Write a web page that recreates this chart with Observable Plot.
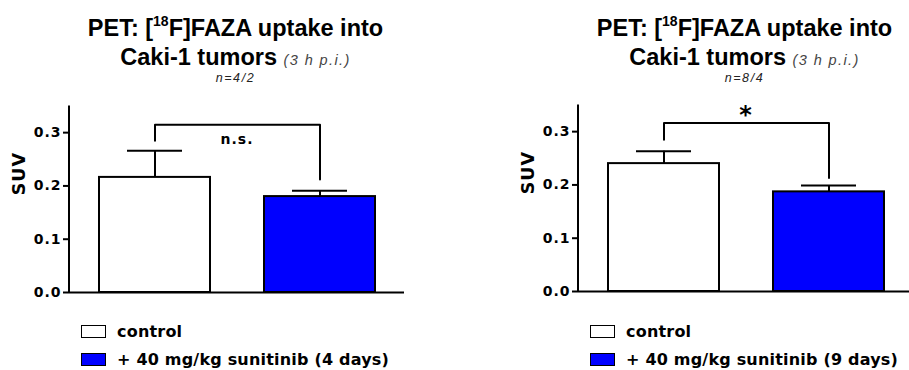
<!DOCTYPE html>
<html><head><meta charset="utf-8">
<script src="https://cdn.jsdelivr.net/npm/d3@7"></script>
<script src="https://cdn.jsdelivr.net/npm/@observablehq/plot@0.6"></script>
<style>
html,body{margin:0;padding:0;background:#fff;width:909px;height:370px;overflow:hidden;position:relative;}
.panel{position:absolute;top:0;width:460px;height:370px;}
.panel svg{position:absolute;left:0;overflow:visible;}
.t{position:absolute;left:35.5px;width:400px;text-align:center;white-space:nowrap;font-family:"Liberation Sans",Arial,sans-serif;color:#000;}
.t1,.t2{font-size:23.5px;line-height:23.5px;font-weight:bold;}
.t1{top:17.1px;}
.t2{top:46.1px;}
.sup{font-size:14px;position:relative;top:-10px;}
.hpi{font-size:14.5px;font-weight:normal;font-style:italic;color:#444;letter-spacing:1.4px;}
.t3{top:71.5px;font-size:12.5px;line-height:12.5px;font-style:italic;color:#222;letter-spacing:1.6px;}
.sw{position:absolute;left:81px;width:25px;height:12.5px;box-sizing:border-box;border:1.5px solid #000;}
.lt{position:absolute;left:117px;font-family:"DejaVu Sans",sans-serif;font-weight:bold;font-size:16px;line-height:16px;letter-spacing:0.2px;white-space:nowrap;color:#000;}
</style>
</head><body>
<script>
// ---- data ----
const groups = ["control", "sunitinib"];
const barColors = ["#ffffff", "#0000ff"];
const titleLine1 = ["PET: [", "18", "F]FAZA uptake into"];
const titleLine2 = "Caki-1 tumors";
const titleNote = "(3 h p.i.)";
const nLabels = ["n=4/2", "n=8/4"];
const legendLabels = [
  ["control", "+ 40 mg/kg sunitinib (4 days)"],
  ["control", "+ 40 mg/kg sunitinib (9 days)"]
];
const meanSUV = [[0.216, 0.180], [0.240, 0.187]];
const errSUV = [[0.050, 0.011], [0.023, 0.012]];
const bracketLeftEnd = [0.285, 0.285];
const bracketTop = [0.315, 0.316];
const bracketRightEnd = [0.212, 0.213];
const sigLabels = ["n.s.", "*"];
const sigY = [0.287, 0.330];
const yTicks = [0, 0.1, 0.2, 0.3];
const yMax = 0.35;
const yLabel = "SUV";

// ---- layout ----
const panelLeft = [0, 509];
const svgTop = [90, 89];

function drawPanel(p) {
  const panel = document.createElement("div");
  panel.className = "panel";
  panel.style.left = panelLeft[p] + "px";
  document.body.appendChild(panel);

  // titles
  const t1 = document.createElement("div");
  t1.className = "t t1";
  t1.innerHTML = titleLine1[0] + '<span class="sup">' + titleLine1[1] + '</span>' + titleLine1[2];
  panel.appendChild(t1);
  const t2 = document.createElement("div");
  t2.className = "t t2";
  t2.innerHTML = titleLine2 + ' <span class="hpi">' + titleNote + '</span>';
  panel.appendChild(t2);
  const t3 = document.createElement("div");
  t3.className = "t t3";
  t3.textContent = nLabels[p];
  panel.appendChild(t3);

  const rows = groups.map((g, i) => ({
    group: g, mean: meanSUV[p][i], upper: meanSUV[p][i] + errSUV[p][i], fill: barColors[i]
  }));
  const bracket = [
    {x: groups[0], y: bracketLeftEnd[p]},
    {x: groups[0], y: bracketTop[p]},
    {x: groups[1], y: bracketTop[p]},
    {x: groups[1], y: bracketRightEnd[p]}
  ];

  const yAxisLine = (index, scales, values, dims) => {
    const l = d3.create("svg:line")
      .attr("x1", dims.marginLeft).attr("x2", dims.marginLeft)
      .attr("y1", scales.y(0) + 1).attr("y2", scales.y(yMax))
      .attr("stroke", "#000").attr("stroke-width", 2);
    return l.node();
  };

  const chart = Plot.plot({
    width: 440,
    height: 215,
    marginLeft: 69,
    marginRight: 36,
    marginTop: 15.5,
    marginBottom: 13,
    x: {type: "band", domain: groups, paddingInner: 0.33, paddingOuter: 0.177, axis: null},
    y: {domain: [0, yMax], axis: null},
    style: {fontFamily: "'DejaVu Sans', sans-serif", fontWeight: "bold", fontSize: "14px", color: "#000", background: "transparent", overflow: "visible"},
    marks: [
      Plot.ruleX(rows, {x: "group", y1: "mean", y2: "upper", stroke: "#000", strokeWidth: 2}),
      Plot.tickY(rows, {x: "group", y: "upper", stroke: "#000", strokeWidth: 2, insetLeft: 28, insetRight: 28}),
      Plot.barY(rows, {x: "group", y: "mean", fill: "fill", stroke: "#000", strokeWidth: 2}),
      Plot.line(bracket, {x: "x", y: "y", stroke: "#000", strokeWidth: 2}),
      Plot.text([sigLabels[p]], {y: () => sigY[p], text: d => d, fontSize: p === 1 ? 24 : 14, lineAnchor: "middle", fill: "#000"}),
      Plot.ruleY([0], {stroke: "#000", strokeWidth: 2}),
      yAxisLine,
      Plot.axisY({ticks: yTicks, tickFormat: d3.format(".1f"), tickSize: 6, tickPadding: 2, label: null, strokeWidth: 2, fontSize: 14}),
      Plot.text([yLabel], {frameAnchor: "left", dx: -50, dy: -4, rotate: -90, text: d => d, fontSize: 17.5, fill: "#000"})
    ]
  });
  chart.style.top = svgTop[p] + "px";
  chart.style.letterSpacing = "1px";
  panel.appendChild(chart);

  // legend
  const swTop = [325, 353];
  const txTop = [323.5, 351.5];
  legendLabels[p].forEach((lab, i) => {
    const sw = document.createElement("div");
    sw.className = "sw";
    sw.style.top = swTop[i] + "px";
    sw.style.background = barColors[i];
    panel.appendChild(sw);
    const tx = document.createElement("div");
    tx.className = "lt";
    tx.style.top = txTop[i] + "px";
    tx.textContent = lab;
    panel.appendChild(tx);
  });
}

drawPanel(0);
drawPanel(1);
</script>
</body></html>
